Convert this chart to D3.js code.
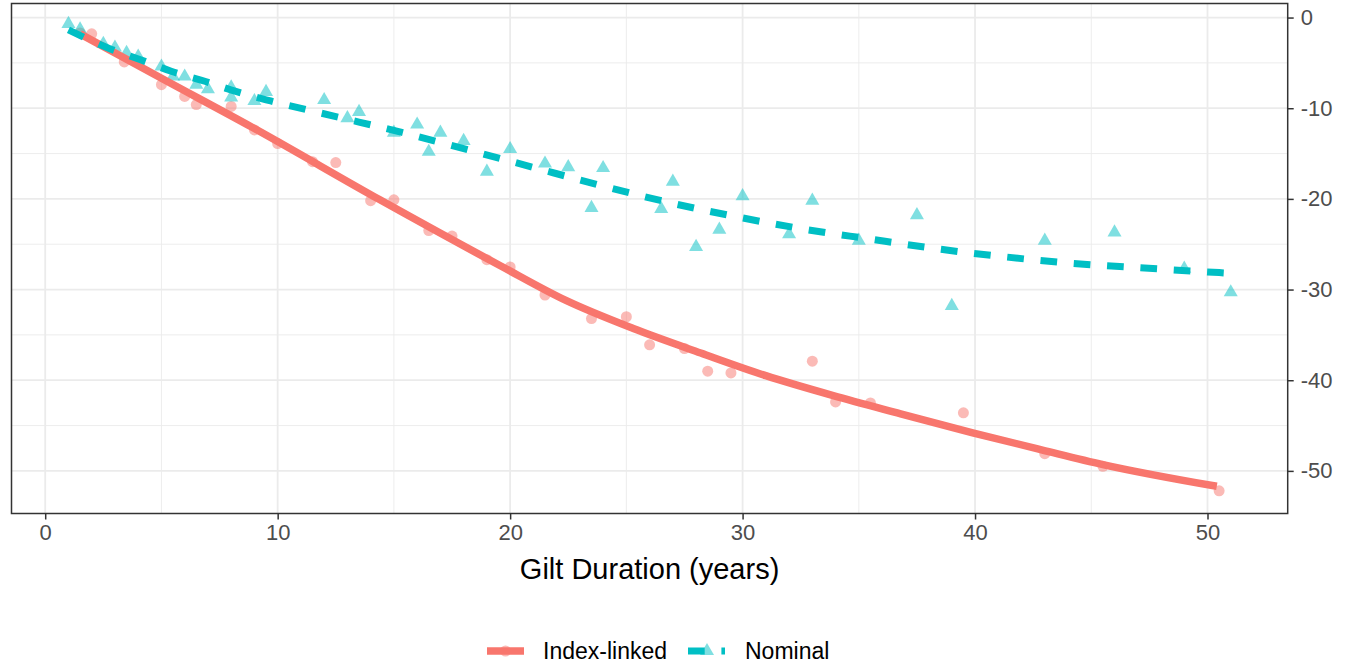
<!DOCTYPE html>
<html>
<head>
<meta charset="utf-8">
<script src="https://cdn.jsdelivr.net/npm/d3@7"></script>
<style>
  body { margin: 0; background: #fff; }
  text { font-family: "Liberation Sans", Arial, sans-serif; }
</style>
</head>
<body>
<svg id="chart"></svg>
<script>
// Index-linked gilts: duration (years) vs price change
const ilDur = [1.5, 2.0, 3.4, 5.0, 6.0, 6.5, 8.0, 9.0, 10.0, 11.5, 12.5, 14.0, 15.0, 16.5, 17.5, 19.0, 20.0, 21.5, 23.5, 25.0, 26.0, 27.5, 28.5, 29.5, 33.0, 34.0, 35.5, 39.5, 43.0, 45.5, 50.5];
const ilChg = [-1.7, -1.8, -4.9, -7.4, -8.7, -9.6, -9.8, -12.4, -13.9, -15.9, -16.0, -20.2, -20.1, -23.5, -24.1, -26.7, -27.5, -30.6, -33.2, -33.0, -36.1, -36.5, -39.0, -39.2, -37.9, -42.4, -42.5, -43.6, -48.1, -49.5, -52.2];

// Nominal gilts
const nomDur = [1.0, 1.5, 2.5, 3.0, 3.5, 4.0, 5.0, 5.5, 6.0, 6.5, 7.0, 8.0, 8.0, 9.0, 9.5, 12.0, 13.0, 13.5, 15.0, 16.0, 16.5, 17.0, 18.0, 19.0, 20.0, 21.5, 22.5, 23.5, 24.0, 26.5, 27.0, 28.0, 29.0, 30.0, 32.0, 33.0, 35.0, 37.5, 39.0, 43.0, 46.0, 49.0, 51.0];
const nomChg = [-0.7, -1.3, -2.9, -3.3, -3.9, -4.3, -5.4, -6.5, -6.5, -7.4, -7.9, -7.7, -8.8, -9.2, -8.2, -9.1, -11.1, -10.4, -12.7, -11.8, -14.8, -12.7, -13.6, -17.0, -14.5, -16.1, -16.5, -21.0, -16.6, -21.1, -18.1, -25.3, -23.4, -19.7, -23.9, -20.2, -24.6, -21.8, -31.8, -24.6, -23.7, -27.7, -30.3];

// smoothed fits
const ilFitDur = [1.5, 5.0, 8.9, 14.4, 19.6, 22.4, 25.3, 28.2, 31.0, 33.9, 36.8, 39.9, 42.9, 45.5, 50.4];
const ilFitChg = [-1.8, -6.7, -12.1, -20.1, -27.4, -31.2, -34.3, -37.0, -39.5, -41.7, -43.7, -45.8, -47.7, -49.3, -51.7];
const nomFitDur = [1.0, 2.7, 4.1, 5.45, 6.9, 8.2, 9.7, 12.55, 15.4, 18.2, 21.1, 23.95, 26.75, 29.6, 32.55, 35.4, 38.35, 41.3, 44.15, 47.1, 50.95];
const nomFitChg = [-1.35, -3.35, -4.65, -5.95, -7.05, -8.15, -9.2, -10.95, -12.7, -14.6, -16.6, -18.55, -20.35, -21.9, -23.3, -24.4, -25.5, -26.4, -27.1, -27.6, -28.2];

const xTicks = [0, 10, 20, 30, 40, 50];
const yTicks = [0, -10, -20, -30, -40, -50];
const xMinor = [5, 15, 25, 35, 45];
const yMinor = [-5, -15, -25, -35, -45];

const seriesNames = ["Index-linked", "Nominal"];
const red = "#F8766D", teal = "#00BFC4";

const W = 1351, H = 666;
const panel = { left: 11.5, right: 1287.7, top: 3.5, bottom: 513.5 };

const svg = d3.select("#chart").attr("width", W).attr("height", H);
svg.append("rect").attr("width", W).attr("height", H).attr("fill", "#fff");

const x = d3.scaleLinear().domain([-1.45, 53.45]).range([panel.left, panel.right]);
const y = d3.scaleLinear().domain([1.55, -54.7]).range([panel.top, panel.bottom]);

// grid
const grid = svg.append("g");
grid.selectAll(".xmin").data(xMinor).join("line")
  .attr("x1", d => x(d)).attr("x2", d => x(d))
  .attr("y1", panel.top).attr("y2", panel.bottom)
  .attr("stroke", "#EBEBEB").attr("stroke-width", 0.9);
grid.selectAll(".ymin").data(yMinor).join("line")
  .attr("y1", d => y(d)).attr("y2", d => y(d))
  .attr("x1", panel.left).attr("x2", panel.right)
  .attr("stroke", "#EBEBEB").attr("stroke-width", 0.9);
grid.selectAll(".xmaj").data(xTicks).join("line")
  .attr("x1", d => x(d)).attr("x2", d => x(d))
  .attr("y1", panel.top).attr("y2", panel.bottom)
  .attr("stroke", "#EBEBEB").attr("stroke-width", 1.8);
grid.selectAll(".ymaj").data(yTicks).join("line")
  .attr("y1", d => y(d)).attr("y2", d => y(d))
  .attr("x1", panel.left).attr("x2", panel.right)
  .attr("stroke", "#EBEBEB").attr("stroke-width", 1.8);

// points
const ilPts = ilDur.map((d, i) => ({ dur: d, chg: ilChg[i] }));
const nomPts = nomDur.map((d, i) => ({ dur: d, chg: nomChg[i] }));

svg.append("g").selectAll("circle").data(ilPts).join("circle")
  .attr("cx", d => x(d.dur)).attr("cy", d => y(d.chg))
  .attr("r", 5.5).attr("fill", red).attr("fill-opacity", 0.5);

const tri = d3.symbol().type(d3.symbolTriangle).size(85);
svg.append("g").selectAll("path").data(nomPts).join("path")
  .attr("transform", d => `translate(${x(d.dur)},${y(d.chg)})`)
  .attr("d", tri).attr("fill", teal).attr("fill-opacity", 0.5);

// fitted lines
const line = d3.line().x(d => x(d[0])).y(d => y(d[1])).curve(d3.curveMonotoneX);
svg.append("path")
  .attr("d", line(ilFitDur.map((d, i) => [d, ilFitChg[i]])))
  .attr("fill", "none").attr("stroke", red).attr("stroke-width", 7.5);
svg.append("path")
  .attr("d", line(nomFitDur.map((d, i) => [d, nomFitChg[i]])))
  .attr("fill", "none").attr("stroke", teal).attr("stroke-width", 7)
  .attr("stroke-dasharray", "16.7,16.7");

// panel border
svg.append("rect")
  .attr("x", panel.left).attr("y", panel.top)
  .attr("width", panel.right - panel.left).attr("height", panel.bottom - panel.top)
  .attr("fill", "none").attr("stroke", "#333333").attr("stroke-width", 1.5);

// axes
const xAxis = svg.append("g").attr("transform", `translate(0,${panel.bottom})`)
  .call(d3.axisBottom(x).tickValues(xTicks).tickSize(6).tickPadding(5));
const yAxis = svg.append("g").attr("transform", `translate(${panel.right},0)`)
  .call(d3.axisRight(y).tickValues(yTicks).tickSize(6).tickPadding(7)
    .tickFormat(d => d < 0 ? "-" + Math.abs(d) : d));
[xAxis, yAxis].forEach(a => {
  a.select(".domain").remove();
  a.selectAll(".tick line").attr("stroke", "#333333").attr("stroke-width", 1.5);
  a.selectAll(".tick text").attr("fill", "#4D4D4D")
    .style("font-size", "22px").style("font-family", "'Liberation Sans', Arial, sans-serif");
});

svg.append("text")
  .attr("x", (panel.left + panel.right) / 2).attr("y", 579)
  .attr("text-anchor", "middle").attr("fill", "#000")
  .style("font-size", "29px")
  .text("Gilt Duration (years)");

// legend
const leg = svg.append("g");
const legY = 651;
const keys = [
  { name: seriesNames[0], x0: 487, tx: 543, color: red, dash: null, w: 7.5 },
  { name: seriesNames[1], x0: 688, tx: 745, color: teal, dash: "16.7,16.7", w: 7 }
];
keys.forEach((k, i) => {
  if (i === 0) {
    leg.append("circle").attr("cx", k.x0 + 18.5).attr("cy", legY).attr("r", 5.5)
      .attr("fill", k.color).attr("fill-opacity", 0.5);
  } else {
    leg.append("path").attr("transform", `translate(${k.x0 + 19},${legY})`)
      .attr("d", tri).attr("fill", k.color).attr("fill-opacity", 0.5);
  }
  leg.append("line").attr("x1", k.x0).attr("x2", k.x0 + 37)
    .attr("y1", legY).attr("y2", legY)
    .attr("stroke", k.color).attr("stroke-width", k.w)
    .attr("stroke-dasharray", k.dash);
  leg.append("text").attr("x", k.tx).attr("y", legY + 8)
    .attr("fill", "#000").style("font-size", "23px").text(k.name);
});
</script>
</body>
</html>
